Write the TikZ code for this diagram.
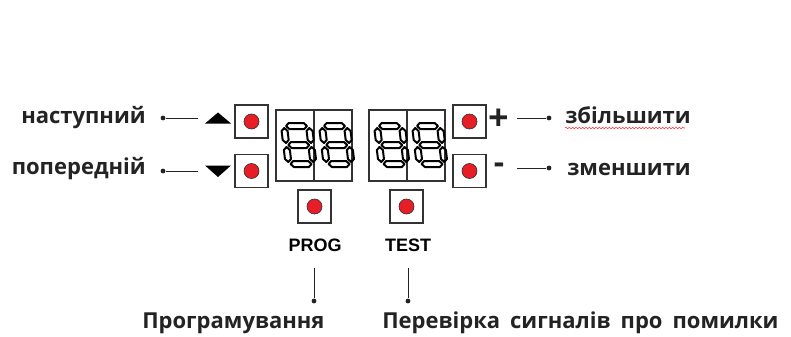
\documentclass[tikz,border=0pt]{standalone}
\usepackage{fontspec}
\setmainfont{Open Sans}
\newfontfamily\keyfont{Liberation Sans}
\usetikzlibrary{decorations.pathmorphing}

\definecolor{ledred}{RGB}{232,30,38}
\definecolor{inkgray}{RGB}{35,35,35}

\tikzset{
	lbl/.style = {font=\bfseries\fontsize{16.5}{18}\selectfont, text=inkgray, inner sep=0pt},
	keylbl/.style = {font=\keyfont\bfseries\fontsize{13.5}{15}\selectfont, inner sep=0pt},
	btnbox/.style = {draw=black!80, line width=0.9pt, minimum size=24.75pt, inner sep=0pt},
	digitbox/.style = {draw=black!80, line width=0.9pt, minimum width=28.5pt, minimum height=53.25pt, inner sep=0pt},
	led/.style = {circle, fill=ledred, draw=black!80, line width=0.5pt, minimum size=11.25pt, inner sep=0pt},
	dot/.style = {circle, fill=inkgray, minimum size=3.6pt, inner sep=0pt},
	seg/.style = {draw=black, line width=1.5pt, line join=round},
	wire/.style = {draw=inkgray, line width=0.6pt}
}

\begin{document}
\begin{tikzpicture}[x=0.75pt, y=-0.75pt]
	\useasboundingbox (0,0) rectangle (791,336);
	
	% buttons on the left
	\node[btnbox] (upbtn) at (251.5,121.5) {};
	\node[led] (upled) at (upbtn.center) {};
	\node[btnbox] (downbtn) at (251.5,171) {};
	\node[led] (downled) at (downbtn.center) {};
	\fill[black] (205,123.5) -- (218,112.5) -- (231,123.5) -- cycle;
	\fill[black] (205,165.5) -- (218,177) -- (231,165.5) -- cycle;
	
	\node[lbl, anchor=base east] (next) at (146,123) {наступний};
	\node[lbl, anchor=base east] (prev) at (146,174) {попередній};
	\node[dot] (nextdot) at (163,118) {};
	\node[dot] (prevdot) at (163,171) {};
	\coordinate (nextend) at (198,118);
	\coordinate (prevend) at (198,171);
	\draw[wire] (nextdot) -- (nextend);
	\draw[wire] (prevdot) -- (prevend);
	
	% display
	\node[digitbox] (d1) at (295,145.5) {};
	\node[digitbox] (d2) at (333,145.5) {};
	\node[digitbox] (d3) at (388,145.5) {};
	\node[digitbox] (d4) at (426,145.5) {};
	\foreach \dx in {284,322,377,415} {
		\begin{scope}[shift={(\dx,126)}, xslant=-0.12]
			\foreach \yy in {0,19,38}
				\draw[seg] (2,\yy) -- (5,\yy-3) -- (20,\yy-3) -- (23,\yy) -- (20,\yy+3) -- (5,\yy+3) -- cycle;
			\foreach \xx in {0,25}
				\foreach \yy in {0,19}
					\draw[seg] (\xx,\yy+2) -- (\xx+3,\yy+5) -- (\xx+3,\yy+14) -- (\xx,\yy+17) -- (\xx-3,\yy+14) -- (\xx-3,\yy+5) -- cycle;
		\end{scope}
	}
	
	% PROG and TEST
	\node[btnbox] (progbtn) at (314.5,206.5) {};
	\node[led] (progled) at (progbtn.center) {};
	\node[btnbox] (testbtn) at (406.5,206.5) {};
	\node[led] (testled) at (testbtn.center) {};
	\node[keylbl, anchor=base] (prog) at (315,251) {PROG};
	\node[keylbl, anchor=base] (test) at (408,251) {TEST};
	
	\coordinate (progtop) at (314,268);
	\coordinate (testtop) at (408,268);
	\node[dot] (progdot) at (314,301) {};
	\node[dot] (testdot) at (408,301) {};
	\draw[wire] (progtop) -- (progdot);
	\draw[wire] (testtop) -- (testdot);
	\node[lbl, anchor=base west] (progtext) at (142,328) {Програмування};
	\node[lbl, anchor=base west] (testtext) at (382,328) {\spaceskip=7.5pt Перевірка сигналів про помилки};
	
	% buttons on the right
	\node[btnbox] (plusbtn) at (469.5,121.5) {};
	\node[led] (plusled) at (plusbtn.center) {};
	\node[btnbox] (minusbtn) at (469.5,171) {};
	\node[led] (minusled) at (minusbtn.center) {};
	\node[lbl, font=\bfseries\fontsize{27}{28}\selectfont] (plus) at (499,120) {+};
	\node[lbl, font=\bfseries\fontsize{24}{26}\selectfont] (minus) at (499,168) {-};
	
	\coordinate (plusstart) at (517,118);
	\coordinate (minusstart) at (517,168);
	\node[dot] (plusdot) at (549,118) {};
	\node[dot] (minusdot) at (549,168) {};
	\draw[wire] (plusstart) -- (plusdot);
	\draw[wire] (minusstart) -- (minusdot);
	\node[lbl, anchor=base west] (more) at (565,123) {збільшити};
	\node[lbl, anchor=base west] (less) at (567,175) {зменшити};
	\draw[red!80, line width=0.4pt, decorate, decoration={snake, amplitude=0.6pt, segment length=2.5pt}]
		(more.base west) ++(0,5) -- ++(120,0);
	
\end{tikzpicture}
\end{document}
